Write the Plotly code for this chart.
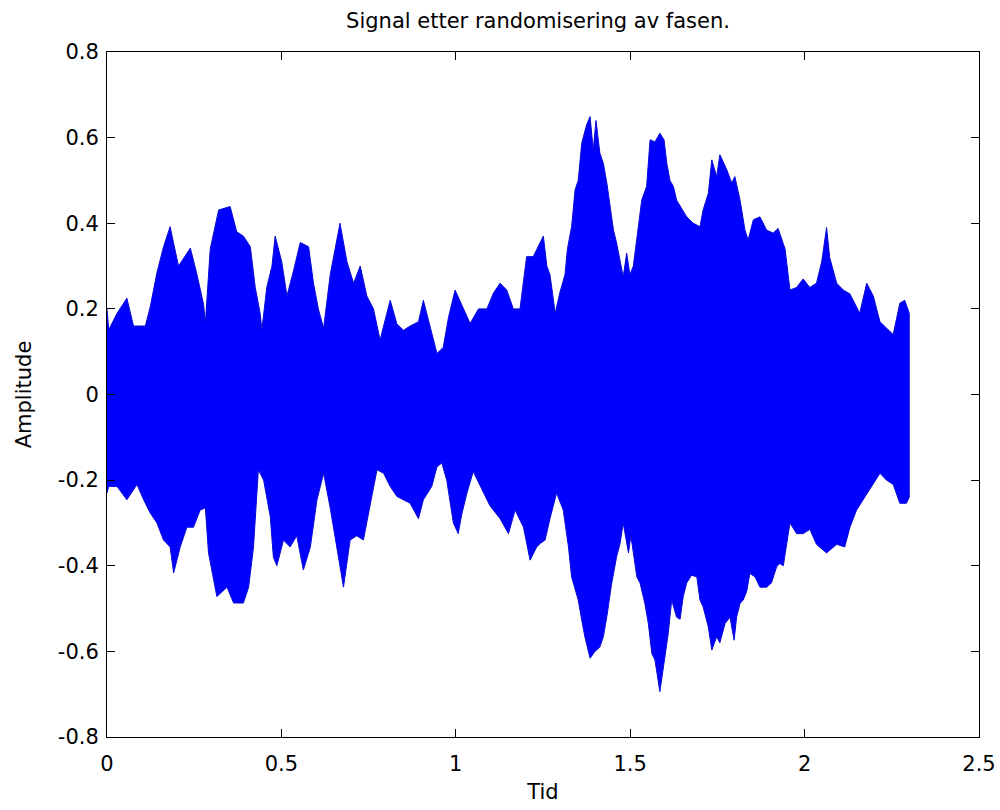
import plotly.graph_objects as go

# Upper envelope of the signal (time in s, amplitude)
t_upper = [0.0, 0.005, 0.029, 0.057, 0.076, 0.110, 0.124, 0.143, 0.162, 0.181, 0.191, 0.205, 0.239,
           0.258, 0.277, 0.282, 0.296, 0.320, 0.353, 0.372, 0.391, 0.411, 0.425, 0.439, 0.444,
           0.458, 0.473, 0.482, 0.501, 0.516, 0.535, 0.554, 0.578, 0.592, 0.606, 0.621, 0.640,
           0.654, 0.668, 0.688, 0.707, 0.726, 0.745, 0.764, 0.783, 0.793, 0.812, 0.831, 0.850,
           0.869, 0.893, 0.907, 0.926, 0.946, 0.964, 0.979, 0.998, 1.022, 1.041, 1.065, 1.089,
           1.108, 1.127, 1.146, 1.165, 1.184, 1.203, 1.222, 1.242, 1.251, 1.261, 1.270, 1.285,
           1.299, 1.313, 1.320, 1.332, 1.342, 1.351, 1.361, 1.375, 1.385, 1.394, 1.402, 1.413,
           1.423, 1.433, 1.442, 1.452, 1.461, 1.471, 1.480, 1.490, 1.499, 1.509, 1.519, 1.533,
           1.547, 1.557, 1.571, 1.585, 1.597, 1.605, 1.614, 1.624, 1.633, 1.643, 1.662, 1.681,
           1.700, 1.709, 1.724, 1.734, 1.748, 1.757, 1.777, 1.791, 1.800, 1.815, 1.829, 1.838,
           1.853, 1.872, 1.891, 1.910, 1.924, 1.944, 1.958, 1.977, 1.996, 2.015, 2.034, 2.049,
           2.063, 2.072, 2.092, 2.111, 2.130, 2.158, 2.178, 2.197, 2.216, 2.235, 2.254, 2.273,
           2.287, 2.300]
a_upper = [0.20, 0.151, 0.19, 0.225, 0.16, 0.16, 0.205, 0.284, 0.345, 0.392, 0.353, 0.30, 0.342,
           0.28, 0.21, 0.167, 0.34, 0.431, 0.439, 0.38, 0.37, 0.345, 0.25, 0.19, 0.151,
           0.25, 0.30, 0.37, 0.31, 0.23, 0.29, 0.355, 0.345, 0.26, 0.20, 0.155, 0.28,
           0.345, 0.40, 0.31, 0.26, 0.30, 0.23, 0.20, 0.127, 0.16, 0.22, 0.165, 0.15,
           0.16, 0.17, 0.22, 0.16, 0.096, 0.11, 0.18, 0.244, 0.20, 0.166, 0.20, 0.20,
           0.237, 0.26, 0.244, 0.20, 0.20, 0.322, 0.322, 0.353, 0.37, 0.30, 0.28, 0.19,
           0.24, 0.28, 0.34, 0.392, 0.478, 0.50, 0.587, 0.63, 0.649, 0.571, 0.64, 0.564,
           0.54, 0.494, 0.439, 0.384, 0.354, 0.314, 0.275, 0.33, 0.28, 0.30, 0.361, 0.454,
           0.486, 0.595, 0.59, 0.61, 0.595, 0.54, 0.50, 0.486, 0.454, 0.44, 0.415, 0.40,
           0.392, 0.431, 0.47, 0.548, 0.509, 0.56, 0.525, 0.494, 0.509, 0.454, 0.384, 0.361,
           0.408, 0.415, 0.384, 0.377, 0.388, 0.34, 0.244, 0.25, 0.27, 0.25, 0.26, 0.31,
           0.39, 0.32, 0.26, 0.244, 0.235, 0.19, 0.26, 0.23, 0.17, 0.155, 0.14, 0.213,
           0.22, 0.19]

# Lower envelope of the signal (time in s, amplitude)
t_lower = [0.0, 0.005, 0.029, 0.057, 0.086, 0.105, 0.124, 0.143, 0.162, 0.181, 0.191, 0.210, 0.229,
           0.248, 0.267, 0.282, 0.291, 0.315, 0.344, 0.363, 0.391, 0.406, 0.420, 0.434, 0.449,
           0.468, 0.477, 0.487, 0.506, 0.525, 0.544, 0.563, 0.583, 0.602, 0.621, 0.640, 0.659,
           0.678, 0.697, 0.716, 0.735, 0.754, 0.774, 0.793, 0.812, 0.831, 0.850, 0.869, 0.893,
           0.907, 0.931, 0.946, 0.960, 0.974, 0.993, 1.007, 1.017, 1.032, 1.050, 1.074, 1.098,
           1.127, 1.151, 1.170, 1.194, 1.213, 1.232, 1.242, 1.256, 1.270, 1.289, 1.308, 1.323,
           1.332, 1.351, 1.361, 1.370, 1.385, 1.399, 1.413, 1.423, 1.433, 1.447, 1.461, 1.471,
           1.480, 1.495, 1.502, 1.519, 1.528, 1.542, 1.552, 1.562, 1.571, 1.585, 1.600, 1.609,
           1.619, 1.633, 1.643, 1.652, 1.662, 1.676, 1.691, 1.700, 1.709, 1.724, 1.734, 1.748,
           1.757, 1.772, 1.786, 1.798, 1.805, 1.815, 1.824, 1.834, 1.843, 1.858, 1.872, 1.891,
           1.905, 1.920, 1.929, 1.939, 1.958, 1.977, 1.996, 2.015, 2.034, 2.063, 2.092, 2.115,
           2.130, 2.149, 2.168, 2.192, 2.216, 2.235, 2.254, 2.273, 2.292, 2.300]
a_lower = [-0.23, -0.215, -0.215, -0.246, -0.21, -0.246, -0.277, -0.30, -0.34, -0.356, -0.417, -0.356, -0.31,
           -0.31, -0.27, -0.265, -0.37, -0.472, -0.45, -0.487, -0.487, -0.45, -0.356, -0.176, -0.20,
           -0.285, -0.38, -0.40, -0.34, -0.356, -0.33, -0.41, -0.356, -0.246, -0.184, -0.265, -0.356,
           -0.45, -0.34, -0.33, -0.34, -0.265, -0.176, -0.184, -0.215, -0.238, -0.246, -0.254, -0.29,
           -0.246, -0.215, -0.169, -0.16, -0.20, -0.30, -0.325, -0.28, -0.23, -0.18, -0.22, -0.26,
           -0.29, -0.325, -0.27, -0.31, -0.387, -0.356, -0.348, -0.34, -0.29, -0.23, -0.27, -0.356,
           -0.426, -0.48, -0.527, -0.566, -0.616, -0.60, -0.59, -0.566, -0.519, -0.441, -0.379, -0.348,
           -0.30, -0.37, -0.33, -0.426, -0.44, -0.488, -0.535, -0.605, -0.62, -0.694, -0.61, -0.558,
           -0.48, -0.52, -0.525, -0.472, -0.44, -0.422, -0.426, -0.48, -0.496, -0.543, -0.597, -0.566,
           -0.58, -0.535, -0.52, -0.574, -0.52, -0.488, -0.48, -0.46, -0.418, -0.426, -0.45, -0.45,
           -0.44, -0.402, -0.395, -0.40, -0.30, -0.325, -0.325, -0.315, -0.35, -0.37, -0.35, -0.356,
           -0.31, -0.27, -0.246, -0.215, -0.184, -0.20, -0.21, -0.254, -0.254, -0.24]

x_ticks = [0, 0.5, 1, 1.5, 2, 2.5]
x_ticktext = ["0", "0.5", "1", "1.5", "2", "2.5"]
y_ticks = [-0.8, -0.6, -0.4, -0.2, 0, 0.2, 0.4, 0.6, 0.8]
y_ticktext = ["-0.8", "-0.6", "-0.4", "-0.2", "0", "0.2", "0.4", "0.6", "0.8"]

title_text = "Signal etter randomisering av fasen."
x_label = "Tid"
y_label = "Amplitude"

poly_x = t_upper + t_lower[::-1]
poly_y = a_upper + a_lower[::-1]

fig = go.Figure()
fig.add_trace(go.Scatter(
    x=poly_x, y=poly_y, mode="lines", fill="toself",
    fillcolor="rgb(0,0,255)",
    line=dict(color="rgb(10,10,215)", width=1),
    hoverinfo="skip", showlegend=False,
))

font = dict(family="DejaVu Sans", size=21, color="black")
axis_common = dict(
    showgrid=False, zeroline=False, showline=True, linecolor="black", linewidth=1,
    mirror="ticks", ticks="inside", ticklen=8, tickcolor="black", tickwidth=1,
    tickfont=font, automargin=False,
)
fig.update_layout(
    width=1000, height=810,
    margin=dict(l=107, r=21, t=52, b=73),
    paper_bgcolor="white", plot_bgcolor="white",
    title=dict(text=title_text, x=0.538, xanchor="center", y=0.975, yanchor="middle",
               yref="container", font=font, automargin=False),
    xaxis=dict(range=[0, 2.5], tickvals=x_ticks, ticktext=x_ticktext, ticklabelstandoff=8,
               title=dict(text=x_label, font=font, standoff=9), **axis_common),
    yaxis=dict(range=[-0.8, 0.8], tickvals=y_ticks, ticktext=y_ticktext, ticklabelstandoff=3,
               title=dict(text=y_label, font=font, standoff=20), **axis_common),
)
fig.write_html("out.html")
